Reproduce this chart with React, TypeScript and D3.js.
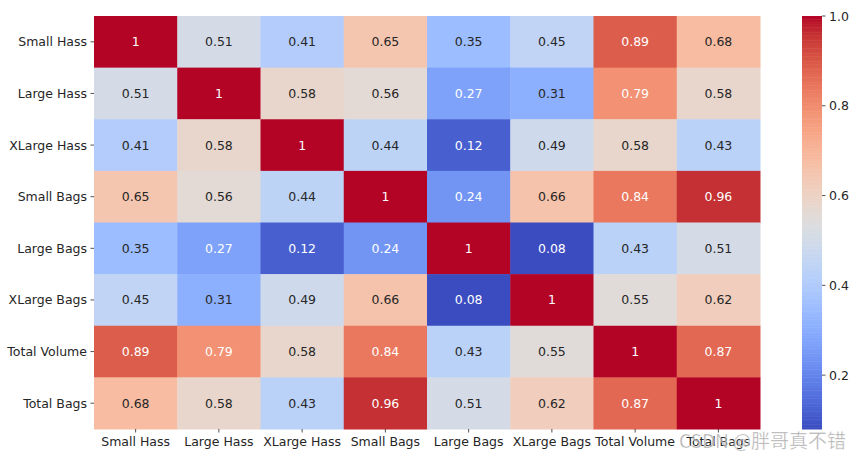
import { scaleBand, scaleLinear, interpolateRgbBasis, rgb, range } from 'd3'

const labels = [
  'Small Hass',
  'Large Hass',
  'XLarge Hass',
  'Small Bags',
  'Large Bags',
  'XLarge Bags',
  'Total Volume',
  'Total Bags',
]

const corr = [
  [1, 0.51, 0.41, 0.65, 0.35, 0.45, 0.89, 0.68],
  [0.51, 1, 0.58, 0.56, 0.27, 0.31, 0.79, 0.58],
  [0.41, 0.58, 1, 0.44, 0.12, 0.49, 0.58, 0.43],
  [0.65, 0.56, 0.44, 1, 0.24, 0.66, 0.84, 0.96],
  [0.35, 0.27, 0.12, 0.24, 1, 0.08, 0.43, 0.51],
  [0.45, 0.31, 0.49, 0.66, 0.08, 1, 0.55, 0.62],
  [0.89, 0.79, 0.58, 0.84, 0.43, 0.55, 1, 0.87],
  [0.68, 0.58, 0.43, 0.96, 0.51, 0.62, 0.87, 1],
]

const colorbarTicks = [0.2, 0.4, 0.6, 0.8, 1.0]

// matplotlib coolwarm, sampled every 1/32
const COOLWARM = [
  [0.2298, 0.2987, 0.7537], [0.2662, 0.3531, 0.8015], [0.3039, 0.4065, 0.845],
  [0.3428, 0.4588, 0.8837], [0.383, 0.5094, 0.9174], [0.4244, 0.5581, 0.9456],
  [0.4667, 0.6046, 0.9682], [0.5096, 0.6483, 0.9848], [0.553, 0.6889, 0.9954],
  [0.5963, 0.7261, 0.9998], [0.6392, 0.7596, 0.9982], [0.6813, 0.789, 0.9904],
  [0.7222, 0.814, 0.9766], [0.7615, 0.8343, 0.9569], [0.7987, 0.8498, 0.9317],
  [0.8335, 0.8602, 0.9011], [0.8654, 0.8654, 0.8654], [0.8978, 0.8489, 0.8209],
  [0.9241, 0.8274, 0.7745], [0.9445, 0.8009, 0.7267], [0.9589, 0.7698, 0.678],
  [0.9673, 0.7341, 0.6288], [0.97, 0.6943, 0.5794], [0.9668, 0.6504, 0.5303],
  [0.958, 0.6028, 0.4818], [0.9437, 0.5518, 0.4342], [0.9239, 0.4973, 0.388],
  [0.899, 0.4396, 0.3432], [0.8692, 0.3783, 0.3003], [0.8346, 0.3129, 0.2593],
  [0.7956, 0.2413, 0.2205], [0.7525, 0.1572, 0.1841], [0.7057, 0.0156, 0.1502],
].map(([r, g, b]) => rgb(r * 255, g * 255, b * 255).formatHex())

const coolwarm = interpolateRgbBasis(COOLWARM)

const WIDTH = 865
const HEIGHT = 460
const MAP = { left: 94, top: 16, right: 760, bottom: 429 }
const BAR = { left: 802, right: 822 }
const FONT = '"DejaVu Sans", sans-serif'
const FS = 12.5

const flat = corr.flat()
const vmin = Math.min(...flat)
const vmax = Math.max(...flat)

const norm = scaleLinear().domain([vmin, vmax]).range([0, 1]).clamp(true)
const colorOf = (v: number) => coolwarm(norm(v))

const luminance = (hex: string) => {
  const c = rgb(hex)
  const lin = [c.r, c.g, c.b].map((x) => {
    const s = x / 255
    return s <= 0.03928 ? s / 12.92 : Math.pow((s + 0.055) / 1.055, 2.4)
  })
  return 0.2126 * lin[0] + 0.7152 * lin[1] + 0.0722 * lin[2]
}

const fmt = (v: number) => (v === 1 ? '1' : String(Number(v.toFixed(2))))

export default function App() {
  const x = scaleBand<string>().domain(labels).range([MAP.left, MAP.right])
  const y = scaleBand<string>().domain(labels).range([MAP.top, MAP.bottom])
  const barY = scaleLinear().domain([vmin, vmax]).range([MAP.bottom, MAP.top])
  const steps = range(0, 256)

  return (
    <svg width={WIDTH} height={HEIGHT} style={{ display: 'block', position: 'absolute', left: 0, top: 0 }}>
      <rect width={WIDTH} height={HEIGHT} fill="#ffffff" />
      {corr.map((row, i) =>
        row.map((v, j) => {
          const fill = colorOf(v)
          return (
            <g key={`${i}-${j}`}>
              <rect
                x={x(labels[j])}
                y={y(labels[i])}
                width={x.bandwidth() + 0.5}
                height={y.bandwidth() + 0.5}
                fill={fill}
              />
              <text
                x={(x(labels[j]) ?? 0) + x.bandwidth() / 2}
                y={(y(labels[i]) ?? 0) + y.bandwidth() / 2}
                textAnchor="middle"
                dominantBaseline="central"
                fontFamily={FONT}
                fontSize={FS}
                fill={luminance(fill) > 0.408 ? '#262626' : '#ffffff'}
              >
                {fmt(v)}
              </text>
            </g>
          )
        }),
      )}

      {labels.map((l) => {
        const cy = (y(l) ?? 0) + y.bandwidth() / 2
        return (
          <g key={`y-${l}`}>
            <line x1={MAP.left - 3.5} x2={MAP.left} y1={cy} y2={cy} stroke="#262626" strokeWidth={0.8} />
            <text
              x={MAP.left - 7}
              y={cy}
              textAnchor="end"
              dominantBaseline="central"
              fontFamily={FONT}
              fontSize={FS}
              fill="#262626"
            >
              {l}
            </text>
          </g>
        )
      })}

      {labels.map((l) => {
        const cx = (x(l) ?? 0) + x.bandwidth() / 2
        return (
          <g key={`x-${l}`}>
            <line x1={cx} x2={cx} y1={MAP.bottom} y2={MAP.bottom + 3.5} stroke="#262626" strokeWidth={0.8} />
            <text
              x={cx}
              y={MAP.bottom + 17}
              textAnchor="middle"
              fontFamily={FONT}
              fontSize={FS}
              fill="#262626"
            >
              {l}
            </text>
          </g>
        )
      })}

      {steps.map((s) => {
        const v0 = vmin + ((vmax - vmin) * s) / 256
        const v1 = vmin + ((vmax - vmin) * (s + 1)) / 256
        return (
          <rect
            key={`cb-${s}`}
            x={BAR.left}
            y={barY(v1)}
            width={BAR.right - BAR.left}
            height={barY(v0) - barY(v1) + 0.5}
            fill={colorOf((v0 + v1) / 2)}
          />
        )
      })}

      {colorbarTicks.map((t) => (
        <g key={`ct-${t}`}>
          <line
            x1={BAR.right}
            x2={BAR.right + 3.5}
            y1={barY(t)}
            y2={barY(t)}
            stroke="#262626"
            strokeWidth={0.8}
          />
          <text
            x={BAR.right + 7}
            y={barY(t)}
            dominantBaseline="central"
            fontFamily={FONT}
            fontSize={FS}
            fill="#262626"
          >
            {t.toFixed(1)}
          </text>
        </g>
      ))}

      <text
        x={679}
        y={448}
        fontFamily='"Noto Sans CJK SC", "DejaVu Sans", sans-serif'
        fontSize={19}
        fill="#8c8c8c"
        fillOpacity={0.7}
        stroke="#ffffff"
        strokeWidth={0.6}
        strokeOpacity={0.6}
      >
        CSDN @胖哥真不错
      </text>
    </svg>
  )
}
